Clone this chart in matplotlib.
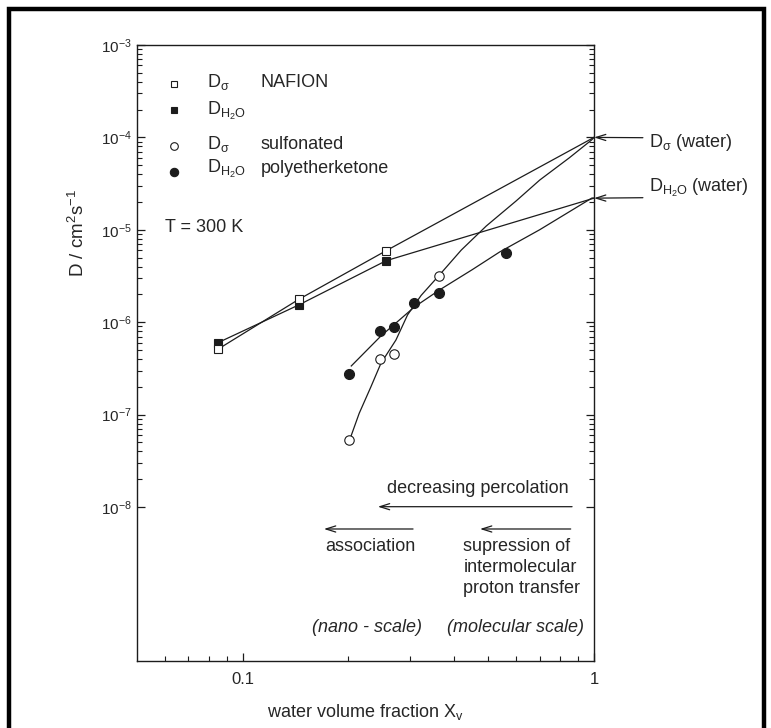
import matplotlib
matplotlib.use("Agg")
import matplotlib.pyplot as plt
from matplotlib.patches import Rectangle
from matplotlib.ticker import FixedLocator, NullFormatter, LogFormatterSciNotation

plt.rcParams['font.family'] = ['Liberation Sans', 'DejaVu Sans']
plt.rcParams['mathtext.fontset'] = 'custom'
plt.rcParams['mathtext.rm'] = 'Liberation Sans'
plt.rcParams['mathtext.it'] = 'Liberation Sans:italic'
plt.rcParams['mathtext.bf'] = 'Liberation Sans:bold'

# ---------------- data ----------------
nafion_x = [0.085, 0.1445, 0.256]
nafion_sigma = [5.1e-7, 1.77e-6, 5.94e-6]
nafion_h2o = [6.0e-7, 1.54e-6, 4.63e-6]

water_x = 1.0
water_sigma = 1.0e-4
water_h2o = 2.2e-5

spek_sigma_x = [0.201, 0.246, 0.269, 0.363]
spek_sigma = [5.3e-8, 3.97e-7, 4.5e-7, 3.19e-6]
spek_h2o_x = [0.201, 0.246, 0.269, 0.308, 0.361, 0.563]
spek_h2o = [2.75e-7, 8.03e-7, 8.94e-7, 1.6e-6, 2.05e-6, 5.57e-6]

# guide curves traced through the sPEK data
curve_sigma_x = [0.2015, 0.2145, 0.2317, 0.2474, 0.273, 0.2946, 0.322, 0.363,
                 0.419, 0.4936, 0.60, 0.701, 0.85, 0.985, 1.0]
curve_sigma_y = [5.31e-8, 1.03e-7, 2.0e-7, 3.59e-7, 6.42e-7, 1.2e-6, 1.95e-6,
                 3.24e-6, 6.04e-6, 1.10e-5, 2.05e-5, 3.46e-5, 6.0e-5, 9.4e-5, 1.0e-4]
curve_h2o_x = [0.2037, 0.2474, 0.308, 0.363, 0.45, 0.5386, 0.70, 0.987, 1.0]
curve_h2o_y = [3.36e-7, 7.09e-7, 1.46e-6, 2.23e-6, 3.7e-6, 5.75e-6, 1.0e-5, 2.21e-5, 2.2e-5]

x_ticks = [0.1, 1]
x_tick_labels = ['0.1', '1']
y_ticks = [1e-8, 1e-7, 1e-6, 1e-5, 1e-4, 1e-3]

# ---------------- figure ----------------
W, H = 771, 728
fig = plt.figure(figsize=(W / 100, H / 100), dpi=100)
L, R, T, B = 137, 594, 45, 661
ax = fig.add_axes([L / W, 1 - B / H, (R - L) / W, (B - T) / H])
ax.set_xscale('log')
ax.set_yscale('log')
ax.set_xlim(0.05, 1)
ax.set_ylim(10 ** (-3 - (B - T) / 92.4), 1e-3)

ink = '#1c1c1c'
txt = '#262626'
lw = 0.9

# lines
ax.plot(nafion_x + [water_x], nafion_sigma + [water_sigma], color=ink, lw=lw, zorder=2)
ax.plot(nafion_x + [water_x], nafion_h2o + [water_h2o], color=ink, lw=lw, zorder=2)
ax.plot(curve_sigma_x, curve_sigma_y, color=ink, lw=lw, zorder=2)
ax.plot(curve_h2o_x, curve_h2o_y, color=ink, lw=lw, zorder=2)

# markers
ax.plot(nafion_x, nafion_h2o, 's', ms=6.2, mfc=ink, mec=ink, mew=0.8, zorder=3)
ax.plot(nafion_x, nafion_sigma, 's', ms=6.2, mfc='white', mec=ink, mew=0.8, zorder=4)
ax.plot(spek_sigma_x, spek_sigma, 'o', ms=6.8, mfc='white', mec=ink, mew=0.8, zorder=4)
ax.plot(spek_h2o_x, spek_h2o, 'o', ms=7.2, mfc=ink, mec=ink, mew=0.8, zorder=3)

# axes styling
for s in ax.spines.values():
    s.set_linewidth(1.0)
    s.set_color(ink)
ax.set_xticks(x_ticks)
ax.set_xticklabels(x_tick_labels)
ax.xaxis.set_minor_locator(FixedLocator([m / 100 for m in range(6, 10)] + [m / 10 for m in range(2, 10)]))
ax.xaxis.set_minor_formatter(NullFormatter())
ax.yaxis.set_major_locator(FixedLocator(y_ticks))
ax.yaxis.set_major_formatter(LogFormatterSciNotation())
ax.yaxis.set_minor_locator(FixedLocator([m * 10.0 ** e for e in range(-8, -3) for m in range(2, 10)]))
ax.yaxis.set_minor_formatter(NullFormatter())
ax.tick_params(axis='both', which='both', direction='in', colors=ink, labelcolor=txt)
ax.tick_params(axis='y', which='both', left=True, right=True)
ax.tick_params(axis='x', which='both', top=False, bottom=True)
ax.tick_params(which='major', length=5.5, width=0.9)
ax.tick_params(which='minor', length=3.5, width=0.8)
ax.tick_params(axis='x', which='major', labelsize=12, pad=8)
ax.tick_params(axis='y', which='major', labelsize=11, pad=4)

ax.set_xlabel(r'water volume fraction X$_\mathrm{v}$', fontsize=13, color=txt, labelpad=11)
ax.set_ylabel(r'D / cm$^2$s$^{-1}$', fontsize=13.5, color=txt)
ax.yaxis.set_label_coords(-0.108, 0.695)

# ---------------- in-plot legend ----------------
tf = ax.transAxes
mx = 0.081
ax.plot([mx], [0.9367], 's', ms=5, mfc='white', mec=ink, mew=0.8, transform=tf, clip_on=False)
ax.plot([mx], [0.8945], 's', ms=5, mfc=ink, mec=ink, mew=0.8, transform=tf, clip_on=False)
ax.plot([mx], [0.836], 'o', ms=5.5, mfc='white', mec=ink, mew=0.8, transform=tf, clip_on=False)
ax.plot([mx], [0.7943], 'o', ms=6, mfc=ink, mec=ink, mew=0.8, transform=tf, clip_on=False)

fs = 13
tx = 0.1525
tx2 = 0.2707
ax.text(tx, 0.932, r'D$_\mathrm{\sigma}$', transform=tf, fontsize=fs, color=txt, va='baseline')
ax.text(tx2, 0.932, 'NAFION', transform=tf, fontsize=fs, color=txt, va='baseline')
ax.text(tx, 0.8864, r'D$_\mathrm{H_2O}$', transform=tf, fontsize=fs, color=txt, va='baseline')
ax.text(tx, 0.8307, r'D$_\mathrm{\sigma}$', transform=tf, fontsize=fs, color=txt, va='baseline')
ax.text(tx2, 0.8307, 'sulfonated', transform=tf, fontsize=fs, color=txt, va='baseline')
ax.text(tx, 0.7922, r'D$_\mathrm{H_2O}$', transform=tf, fontsize=fs, color=txt, va='baseline')
ax.text(tx2, 0.7922, 'polyetherketone', transform=tf, fontsize=fs, color=txt, va='baseline')
ax.text(0.0613, 0.697, 'T = 300 K', transform=tf, fontsize=fs, color=txt, va='baseline')

# ---------------- water annotations (right) ----------------
aprops = dict(arrowstyle='->,head_length=0.7,head_width=0.22', lw=0.9, color=ink,
              shrinkA=0, shrinkB=0)
ax.annotate('', xy=(water_x, water_sigma), xycoords='data',
            xytext=(1.107, (B - 137.7) / (B - T)), textcoords='axes fraction',
            arrowprops=aprops, annotation_clip=False)
ax.annotate('', xy=(water_x, water_h2o), xycoords='data',
            xytext=(1.107, (B - 197.7) / (B - T)), textcoords='axes fraction',
            arrowprops=aprops, annotation_clip=False)
ax.text(1.1204, 0.835, r'D$_\mathrm{\sigma}$ (water)', transform=tf, fontsize=fs,
        color=txt, va='baseline', clip_on=False)
ax.text(1.1204, 0.7614, r'D$_\mathrm{H_2O}$ (water)', transform=tf, fontsize=fs,
        color=txt, va='baseline', clip_on=False)

# ---------------- bottom annotations ----------------
ax.text(0.746, 0.2727, 'decreasing percolation', transform=tf, fontsize=fs, color=txt,
        ha='center', va='baseline')
ax.annotate('', xy=(0.527, 0.2505), xytext=(0.952, 0.2505), xycoords='axes fraction',
            arrowprops=aprops)
ax.annotate('', xy=(0.409, 0.2143), xytext=(0.604, 0.2143), xycoords='axes fraction',
            arrowprops=aprops)
ax.annotate('', xy=(0.7505, 0.2143), xytext=(0.949, 0.2143), xycoords='axes fraction',
            arrowprops=aprops)
ax.text(0.411, 0.1786, 'association', transform=tf, fontsize=fs, color=txt, va='baseline')
ax.text(0.714, 0.1786, 'supression of', transform=tf, fontsize=fs, color=txt, va='baseline')
ax.text(0.714, 0.1445, 'intermolecular', transform=tf, fontsize=fs, color=txt, va='baseline')
ax.text(0.714, 0.1104, 'proton transfer', transform=tf, fontsize=fs, color=txt, va='baseline')
ax.text(0.382, 0.0476, '(nano - scale)', transform=tf, fontsize=fs, color=txt,
        va='baseline', style='italic')
ax.text(0.678, 0.0476, '(molecular scale)', transform=tf, fontsize=fs, color=txt,
        va='baseline', style='italic')

# outer frame of the scanned figure
fig.patches.append(Rectangle((9 / W, -0.05), (764 - 9) / W, 1.05 - 9 / H, fill=False,
                             lw=3.2, edgecolor='black', transform=fig.transFigure,
                             figure=fig))

fig.savefig('out.png', dpi=100, facecolor='white')
